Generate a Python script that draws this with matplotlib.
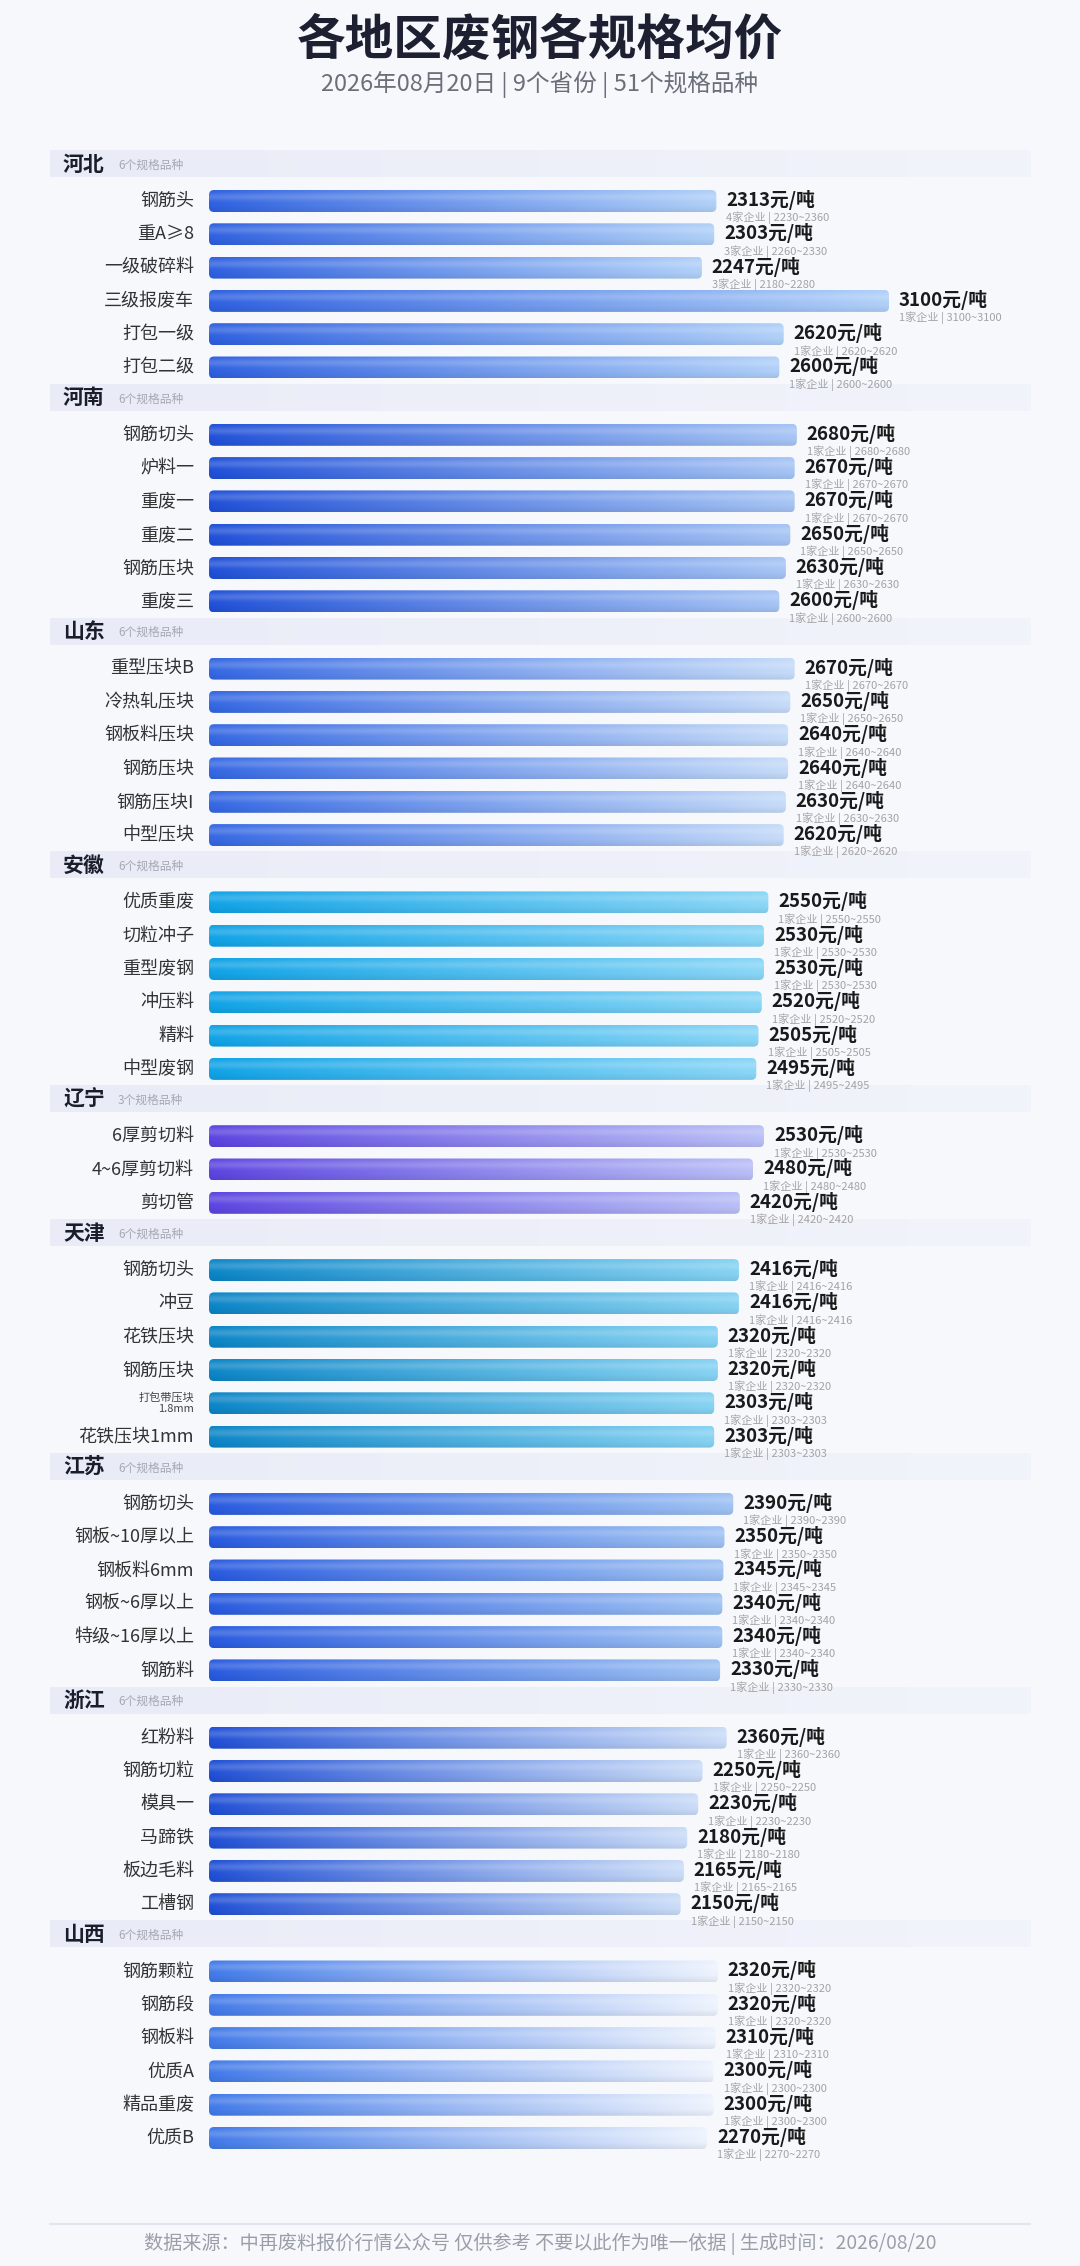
import numpy as np
import matplotlib
matplotlib.use('Agg')
import matplotlib.pyplot as plt
from matplotlib.patches import FancyBboxPatch
from matplotlib.colors import to_rgb

plt.rcParams['font.family'] = ['Noto Sans CJK SC', 'DejaVu Sans']

# ---- data ----
title = '各地区废钢各规格均价'
subtitle = '2026年08月20日 | 9个省份 | 51个规格品种'
footer = '数据来源：中再废料报价行情公众号 仅供参考 不要以此作为唯一依据 | 生成时间：2026/08/20'

hebei_items = ['钢筋头', '重A≥8', '一级破碎料', '三级报废车', '打包一级', '打包二级']
hebei_prices = [2313, 2303, 2247, 3100, 2620, 2600]
hebei_counts = [4, 3, 3, 1, 1, 1]
hebei_low = [2230, 2260, 2180, 3100, 2620, 2600]
hebei_high = [2360, 2330, 2280, 3100, 2620, 2600]

henan_items = ['钢筋切头', '炉料一', '重废一', '重废二', '钢筋压块', '重废三']
henan_prices = [2680, 2670, 2670, 2650, 2630, 2600]
henan_counts = [1, 1, 1, 1, 1, 1]
henan_low = [2680, 2670, 2670, 2650, 2630, 2600]
henan_high = [2680, 2670, 2670, 2650, 2630, 2600]

shandong_items = ['重型压块B', '冷热轧压块', '钢板料压块', '钢筋压块', '钢筋压块I', '中型压块']
shandong_prices = [2670, 2650, 2640, 2640, 2630, 2620]
shandong_counts = [1, 1, 1, 1, 1, 1]
shandong_low = [2670, 2650, 2640, 2640, 2630, 2620]
shandong_high = [2670, 2650, 2640, 2640, 2630, 2620]

anhui_items = ['优质重废', '切粒冲子', '重型废钢', '冲压料', '精料', '中型废钢']
anhui_prices = [2550, 2530, 2530, 2520, 2505, 2495]
anhui_counts = [1, 1, 1, 1, 1, 1]
anhui_low = [2550, 2530, 2530, 2520, 2505, 2495]
anhui_high = [2550, 2530, 2530, 2520, 2505, 2495]

liaoning_items = ['6厚剪切料', '4~6厚剪切料', '剪切管']
liaoning_prices = [2530, 2480, 2420]
liaoning_counts = [1, 1, 1]
liaoning_low = [2530, 2480, 2420]
liaoning_high = [2530, 2480, 2420]

tianjin_items = ['钢筋切头', '冲豆', '花铁压块', '钢筋压块', '打包带压块\n1.8mm', '花铁压块1mm']
tianjin_prices = [2416, 2416, 2320, 2320, 2303, 2303]
tianjin_counts = [1, 1, 1, 1, 1, 1]
tianjin_low = [2416, 2416, 2320, 2320, 2303, 2303]
tianjin_high = [2416, 2416, 2320, 2320, 2303, 2303]

jiangsu_items = ['钢筋切头', '钢板~10厚以上', '钢板料6mm', '钢板~6厚以上', '特级~16厚以上', '钢筋料']
jiangsu_prices = [2390, 2350, 2345, 2340, 2340, 2330]
jiangsu_counts = [1, 1, 1, 1, 1, 1]
jiangsu_low = [2390, 2350, 2345, 2340, 2340, 2330]
jiangsu_high = [2390, 2350, 2345, 2340, 2340, 2330]

zhejiang_items = ['红粉料', '钢筋切粒', '模具一', '马蹄铁', '板边毛料', '工槽钢']
zhejiang_prices = [2360, 2250, 2230, 2180, 2165, 2150]
zhejiang_counts = [1, 1, 1, 1, 1, 1]
zhejiang_low = [2360, 2250, 2230, 2180, 2165, 2150]
zhejiang_high = [2360, 2250, 2230, 2180, 2165, 2150]

shanxi_items = ['钢筋颗粒', '钢筋段', '钢板料', '优质A', '精品重废', '优质B']
shanxi_prices = [2320, 2320, 2310, 2300, 2300, 2270]
shanxi_counts = [1, 1, 1, 1, 1, 1]
shanxi_low = [2320, 2320, 2310, 2300, 2300, 2270]
shanxi_high = [2320, 2320, 2310, 2300, 2300, 2270]

regions = ['河北', '河南', '山东', '安徽', '辽宁', '天津', '江苏', '浙江', '山西']
# bar gradient colours (left, right) per region
region_colors = [('#2d5fe0', '#b0d0f8'), ('#1f4fd8', '#a6c4f4'), ('#3366e3', '#c5dbf8'),
                 ('#0ea2e6', '#8ad6f6'), ('#5a43e0', '#b9bef6'), ('#0a84c6', '#86d2f2'),
                 ('#2759df', '#9fc2f3'), ('#1e4ed5', '#cadcf7'), ('#3f78e8', '#edf3fd')]

sections = [
    (hebei_items, hebei_prices, hebei_counts, hebei_low, hebei_high),
    (henan_items, henan_prices, henan_counts, henan_low, henan_high),
    (shandong_items, shandong_prices, shandong_counts, shandong_low, shandong_high),
    (anhui_items, anhui_prices, anhui_counts, anhui_low, anhui_high),
    (liaoning_items, liaoning_prices, liaoning_counts, liaoning_low, liaoning_high),
    (tianjin_items, tianjin_prices, tianjin_counts, tianjin_low, tianjin_high),
    (jiangsu_items, jiangsu_prices, jiangsu_counts, jiangsu_low, jiangsu_high),
    (zhejiang_items, zhejiang_prices, zhejiang_counts, zhejiang_low, zhejiang_high),
    (shanxi_items, shanxi_prices, shanxi_counts, shanxi_low, shanxi_high),
]

# ---- layout (pixels) ----
W, H = 1080, 2266
X0 = 209                 # pixel where value 0 sits
K = 3100 / 680           # value units per pixel
BAR_H = 22
ROW = 33.3
HEADER = 34


def px(p):
    # horizontal pixel position -> data x
    return (p - X0) * K


fig = plt.figure(figsize=(W / 100, H / 100), dpi=100, facecolor='#f6f8fc')
ax = fig.add_axes([0, 0, 1, 1])
ax.set_xlim(px(0), px(W))
ax.set_ylim(H, 0)
ax.axis('off')
ax.set_facecolor('#f6f8fc')

ax.text(px(540), 40, title, ha='center', va='center', fontsize=35,
        fontweight='bold', color='#1c2030')
ax.text(px(540), 84, subtitle, ha='center', va='center', fontsize=17,
        color='#6b6f7a')


def bar_image(c_left, c_right, rows=24, cols=256):
    l = np.array(to_rgb(c_left))
    r = np.array(to_rgb(c_right))
    t = np.linspace(0, 1, cols) ** 0.9
    base = l[None, :] * (1 - t[:, None]) + r[None, :] * t[:, None]
    img = np.repeat(base[None, :, :], rows, axis=0)
    # soft gloss on the upper part, slightly darker bottom
    v = np.linspace(0, 1, rows)
    gloss = 0.18 * np.exp(-((v - 0.3) / 0.18) ** 2)
    dark = 0.07 * np.clip((v - 0.7) / 0.3, 0, 1)
    img = img + (1 - img) * gloss[:, None, None]
    img = img * (1 - dark[:, None, None])
    return np.clip(img, 0, 1)


band_l = np.array(to_rgb('#e9ecf7'))
band_r = np.array(to_rgb('#f2f4fb'))
band_img = band_l + np.linspace(0, 1, 256)[None, :, None] * (band_r - band_l)

y = 150
for name, (cl, cr), (items, prices, counts, lows, highs) in zip(regions, region_colors, sections):
    ax.imshow(band_img, extent=(px(50), px(1030), y + 27, y), aspect='auto', zorder=1)
    ax.text(px(63), y + 14, name, ha='left', va='center', fontsize=15,
            fontweight='bold', color='#1a1d2b', zorder=3)
    ax.text(px(118), y + 15, f'{len(items)}个规格品种', ha='left', va='center',
            fontsize=8.5, color='#a6a9b4', zorder=3)

    img = bar_image(cl, cr)
    for i, (item, price, cnt, lo, hi) in enumerate(zip(items, prices, counts, lows, highs)):
        cy = y + 51 + i * ROW
        patch = FancyBboxPatch((0, cy - BAR_H / 2), price, BAR_H,
                               boxstyle=f'round,pad=0,rounding_size={5 * K}',
                               mutation_aspect=1 / K, facecolor='none',
                               edgecolor='none', transform=ax.transData)
        ax.add_patch(patch)
        im = ax.imshow(img, extent=(0, price, cy + BAR_H / 2, cy - BAR_H / 2),
                       aspect='auto', zorder=2, interpolation='bilinear')
        im.set_clip_path(patch)

        if '\n' in item:
            ax.text(px(194), cy, item, ha='right', va='center', fontsize=8,
                    color='#444444', linespacing=1.15, zorder=3)
        else:
            ax.text(px(194), cy, item, ha='right', va='center', fontsize=13,
                    color='#333333', zorder=3)
        ax.text(price + 10 * K, cy - 1, f'{price}元/吨', ha='left', va='center',
                fontsize=13.5, fontweight='bold', color='#1a1a1a', zorder=4)
        ax.text(price + 10 * K, cy + 17, f'{cnt}家企业 | {lo}~{hi}', ha='left',
                va='center', fontsize=8, color='#a3a3a3', zorder=4)

    y += HEADER + len(items) * ROW

ax.plot([px(50), px(1030)], [2224, 2224], color='#e2e5ed', lw=1.5, zorder=1)
ax.text(px(540), 2244, footer, ha='center', va='center', fontsize=13.8,
        color='#9a9ea8')

fig.savefig('out.png', dpi=100, facecolor=fig.get_facecolor())
